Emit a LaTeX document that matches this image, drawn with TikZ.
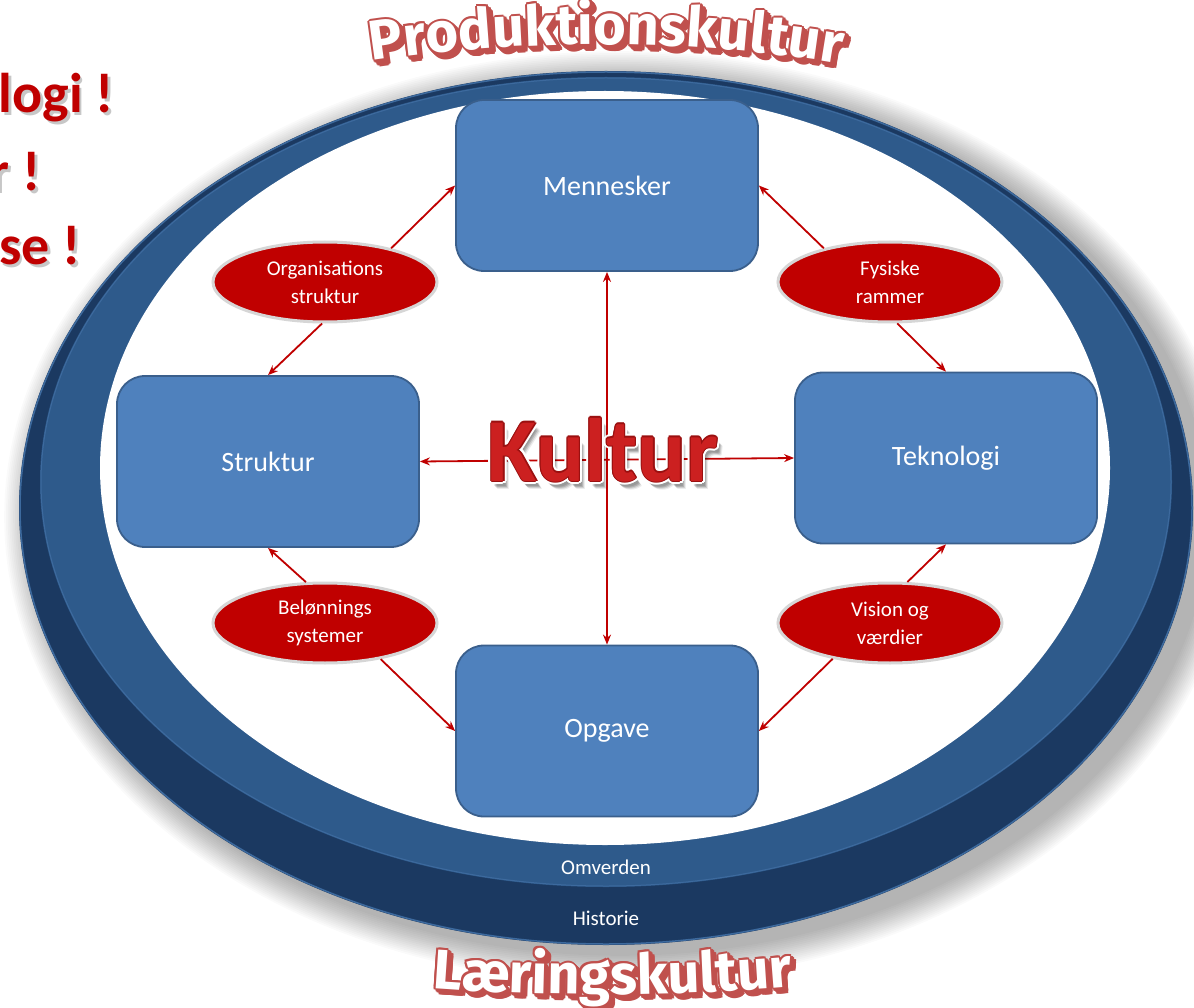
\documentclass[tikz,border=0pt]{standalone}
\usepackage{fontspec}
\setmainfont{Carlito}
\newfontfamily\fancyfont{Fira Sans}
\usetikzlibrary{shapes.geometric,arrows.meta,decorations.text}
\definecolor{ringdark}{HTML}{1B3961}
\definecolor{ringmid}{HTML}{2E5A8B}
\definecolor{ringrim}{HTML}{3D6A9E}
\definecolor{boxblue}{HTML}{4F81BD}
\definecolor{boxedge}{HTML}{3A5F8C}
\definecolor{ovalred}{HTML}{C00000}
\definecolor{ovalrim}{HTML}{D6D6D6}
\definecolor{arrowred}{HTML}{C00000}
\definecolor{kulred}{HTML}{CC2020}
\definecolor{kuledge}{HTML}{9A1010}
\definecolor{prodred}{HTML}{C0504D}
\definecolor{sidered}{HTML}{C00000}
\begin{document}
\begin{tikzpicture}[x=1pt,y=-1pt,
  box/.style={rectangle, rounded corners=28pt, minimum width=302pt, minimum height=171pt,
    fill=boxblue, draw=boxedge, line width=1.8pt, text=white,
    font=\fontsize{28}{32}\selectfont, inner sep=0pt},
  oval/.style={ellipse, minimum width=224pt, minimum height=80pt, fill=ovalred, draw=ovalrim,
    line width=3pt, text=white, align=center, font=\fontsize{21}{28}\selectfont, inner sep=0pt},
  link/.style={draw=arrowred, line width=1.8pt, -{Stealth[length=10pt,width=8pt]}},
  dlink/.style={draw=arrowred, line width=1.8pt, {Stealth[length=10pt,width=8pt]}-{Stealth[length=10pt,width=8pt]}},
  kulstyle/.style={font=\fontsize{90}{90}\selectfont\bfseries, inner sep=0pt, anchor=base},
  sidetxt/.style={font=\fontsize{56}{56}\selectfont\bfseries, inner sep=0pt, anchor=base east},
  ringlbl/.style={font=\fontsize{21}{24}\selectfont, text=white, inner sep=0pt, anchor=base}
]
\useasboundingbox (0,0) rectangle (1194,1008);
\fill[white] (0,0) rectangle (1194,1008);

% soft shadow
\foreach \i in {1,...,16}{
  \fill[black,opacity=0.02] (620,517) ellipse [x radius={587pt+1.8pt*\i}, y radius={437pt+1.8pt*\i}];
}
% rings
\fill[ringdark] (606,508) ellipse [x radius=587pt, y radius=437pt];
\draw[ringrim,line width=1.5pt] (606,508) ellipse [x radius=586pt, y radius=436pt];
\fill[ringmid] (606,482) ellipse [x radius=566pt, y radius=405pt];
\draw[ringrim,line width=1pt] (606,482) ellipse [x radius=565pt, y radius=404pt];
\fill[white] (605,468) ellipse [x radius=505pt, y radius=377pt];

\node[ringlbl] (omv) at (606,874) {Omverden};
\node[ringlbl] (his) at (606,925) {Historie};

% side texts (cut by the left edge)
\begin{scope}
\clip (0,0) rectangle (300,300);
\foreach \t/\x/\y [count=\k] in {logi !/114/113, r !/41/191, se !/81/265}{
  \node[sidetxt,text=black,opacity=0.22] (sh\k) at (\x+2.5,\y+2.5) {\t};
  \node[sidetxt,text=sidered] (side\k) at (\x,\y) {\t};
}
\end{scope}

% boxes
\node[box] (men) at (607,185.5) {Mennesker};
\node[box] (str) at (268,461.5) {Struktur};
\node[box] (tek) at (946,458) {Teknologi};
\node[box] (opg) at (607,731) {Opgave};

% ovals
\node[oval] (org) at (325,282) {Organisations\\struktur};
\node[oval] (fys) at (890,282) {Fysiske\\rammer};
\node[oval] (bel) at (325,623) {Belønnings\\systemer};
\node[oval] (vis) at (890,623) {Vision og\\værdier};

% connectors
\draw[link] (org.27) -- (men.west);
\draw[link] (org.266) -- (str.north);
\draw[link] (fys.153) -- (men.east);
\draw[link] (fys.280) -- (tek.north);
\draw[link] (bel.115) -- (str.south);
\draw[link] (bel.327) -- (opg.west);
\draw[link] (vis.67) -- (tek.south);
\draw[link] (vis.212) -- (opg.east);
\draw[dlink] (men.south) -- (opg.north);
\draw[dlink] (str.east) -- (tek.west);

% Kultur
\foreach \dx/\dy/\op in {5/7/0.12, 4/6/0.15, 6/8/0.08, 3/5/0.12}{
  \node[kulstyle,text=black,opacity=\op] (kshadow) at (603+\dx,481+\dy) {Kultur};
}
\foreach \a in {0,22.5,...,337.5}{
  \node[kulstyle,text=white] (kwhite) at ({603+3.2*cos(\a)},{481+3.2*sin(\a)}) {Kultur};
}
\foreach \a in {0,45,...,315}{
  \node[kulstyle,text=kuledge] (kedge) at ({603+1.2*cos(\a)},{481+1.2*sin(\a)}) {Kultur};
}
\node[kulstyle,text=kulred] (kul) at (603,481) {Kultur};

% Produktionskultur
\foreach \d in {0,1.5,3,4.5}{
  \foreach \a in {0,45,...,315}{
    \path[shift={({\d+2*cos(\a)},{\d+2*sin(\a)})}, decorate,
      decoration={text along path, text align=center,
        text={|\fancyfont\bfseries\fontsize{56}{56}\selectfont\color{prodred}|Produktionskultur}}]
      (330,68) .. controls (500,36) and (712,36) .. (882,72);
  }
}
\path[decorate,
  decoration={text along path, text align=center,
    text={|\fancyfont\bfseries\fontsize{56}{56}\selectfont\color{white}|Produktionskultur}}]
  (330,68) .. controls (500,36) and (712,36) .. (882,72);

% Laeringskultur
\foreach \d in {0,1.5,3,4.5}{
  \foreach \a in {0,45,...,315}{
    \path[shift={({\d+2*cos(\a)},{\d+2*sin(\a)})}, decorate,
      decoration={text along path, text align=center,
        text={|\fancyfont\bfseries\fontsize{56}{56}\selectfont\color{prodred}|Læringskultur}}]
      (385,984) .. controls (530,998) and (690,998) .. (840,982);
  }
}
\path[decorate,
  decoration={text along path, text align=center,
    text={|\fancyfont\bfseries\fontsize{56}{56}\selectfont\color{white}|Læringskultur}}]
  (385,984) .. controls (530,998) and (690,998) .. (840,982);
\end{tikzpicture}
\end{document}
